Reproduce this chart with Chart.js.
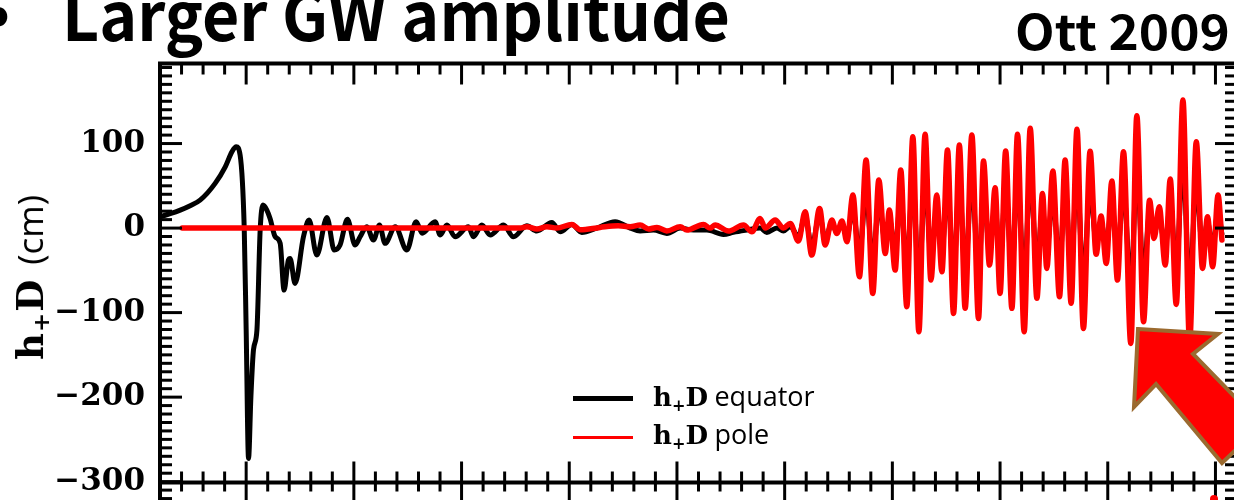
<!DOCTYPE html>
<html>
<head>
<meta charset="utf-8">
<script src="https://cdn.jsdelivr.net/npm/chart.js@4.4.1/dist/chart.umd.min.js"></script>
<style>
  html, body { margin: 0; padding: 0; background: #fff; overflow: hidden; }
  #wrap { position: relative; width: 1234px; height: 500px; overflow: hidden; }
  #gw { position: absolute; left: 0; top: 0; }
  .txt { position: absolute; white-space: nowrap; line-height: 1; transform-origin: 0 0; }
  .head { font-family: "Noto Sans CJK JP", "Liberation Sans", sans-serif; font-weight: 700; color: #000; }
  .serif { font-family: "DejaVu Serif", serif; font-weight: bold; }
  .sans { font-family: "Open Sans", "DejaVu Sans", sans-serif; }
  .sub { font-size: 0.62em; position: relative; top: 0.28em; }
  .key { position: absolute; height: 0; border-top-style: solid; }
  #arrow { position: absolute; left: 0; top: 0; }
</style>
</head>
<body>
<div id="wrap">
  <canvas id="gw" width="1240" height="500"></canvas>
  <div class="txt head" id="bullet" style="left:-14px; top:-24px; font-size:64px;">•</div>
  <div class="txt head" id="title" style="left:62px; top:-22px; font-size:68px;">Larger GW amplitude</div>
  <div class="txt head" id="cite" style="left:1015px; top:5px; font-size:48px;">Ott 2009</div>
  <div class="txt" id="ytitle" style="left:33px; top:276px; transform-origin:50% 50%;">
    <span class="serif" style="font-size:37px; letter-spacing:1px;">h<span class="sub">+</span>D</span><span class="sans" style="font-size:35px; margin-left:14px;">(cm)</span>
  </div>
  <div class="key" style="left:573px; top:396px; width:60px; border-top-width:5px; border-top-color:#000;"></div>
  <div class="key" style="left:573px; top:436px; width:60px; border-top-width:3px; border-top-color:#f00;"></div>
  <div class="txt" id="leg1" style="left:653px; top:382px; font-size:26px;"><span class="serif">h<span class="sub">+</span>D</span> <span class="sans" style="font-size:27px;">equator</span></div>
  <div class="txt" id="leg2" style="left:653px; top:420px; font-size:26px;"><span class="serif">h<span class="sub">+</span>D</span> <span class="sans" style="font-size:27px;">pole</span></div>
  <svg id="arrow" width="1234" height="500">
    <polygon points="1138,329 1218,334 1193,354 1262,425 1222,463 1156,384 1134,407"
             fill="#ff0000" stroke="#9b6a2f" stroke-width="4" stroke-linejoin="miter"/>
    <ellipse cx="1214" cy="499" rx="4" ry="4" fill="#ff0000"/>
  </svg>
</div>
<script>
// time after bounce (ms) and h+D (cm)
const equatorT = [
  -39.9, -35.3, -30.6, -26.0, -21.4, -14.4, -9.7, -6.6, -4.6, -2.8, -0.9, 0.0,
  1.1, 2.2, 3.4, 5.0, 6.5, 7.8, 9.6, 11.1, 13.5, 15.8,
  17.6, 19.6, 20.4, 22.7, 26.6, 29.2, 32.8, 37.5, 40.9, 43.6,
  47.0, 50.6, 52.9, 56.0, 59.1, 61.9, 64.5, 69.2, 74.6, 78.9,
  81.7, 87.7, 90.1, 93.2, 97.0, 103.2, 105.5, 109.4, 113.3, 119.5,
  124.1, 130.3, 135.0, 141.9, 145.8, 151.2, 155.8, 162.8, 171.3, 178.3,
  182.9, 189.1, 195.3, 201.5, 207.7, 213.9, 221.6, 226.2, 232.5, 238.6,
  241.7, 246.4, 249.4,
  252.6, 256.4, 259.5, 262.6, 266.2, 268.8, 271.9, 274.2, 276.6, 278.9,
  281.7, 284.7, 287.8, 290.9, 293.7, 296.7, 298.6, 301.3, 303.9, 306.7,
  309.5, 312.3, 315.2, 317.9, 320.6, 323.0, 325.6, 328.4, 331.1, 333.8,
  336.9, 340.0, 342.3, 345.1, 347.7, 350.0, 352.6, 355.5, 358.1, 361.2,
  364.0, 367.1, 369.7, 371.7, 374.5, 377.6, 380.2, 383.0, 385.7, 388.7,
  391.8, 394.6, 396.9, 399.3, 401.9, 404.5, 407.3, 410.7, 413.5, 416.6,
  419.4, 421.5, 423.9, 426.7, 429.0, 431.8, 434.9, 438.0, 441.1, 444.0,
  446.3, 448.7, 451.2, 453.0
];
const equatorH = [
  13.4, 17.0, 21.3, 26.5, 33.0, 52.9, 72.5, 90.3, 96.2, 86.4, 0, -120,
  -272.5, -199.6, -144, -120.7, -2.4, 27.2, 21.3, 11.4, -10.3, -18.1,
  -73.4, -37.9, -35.9, -65.5, -10.3, 9.5, -32, 12.6, -26, -20,
  10.3, -20, -10.3, 1.6, -14.2, 3.5, -18.1, 1.6, -26, 7.5,
  -6, 7.5, -8.3, 3.5, -10.3, 1.6, -10.3, 3.5, -8.3, 3.5,
  -10.3, 2.7, -3.5, 6.7, -4.3, 4.3, -5.1, 0, 7.5, 0,
  -3.5, -2.4, -6.3, 0, -2.4, -2.4, -7.5, -5.1, -2.4, 0,
  -5.1, 0, -3.5,
  2, -10, 14, -22, 16, -14, 6, -5, 5, -10,
  22, -30, 40, -40, 30, -16, 11, -26, 36, -48,
  58, -66, 56, -32, 20, -27, 48, -52, 52, -50,
  57, -55, 41, -23, 25, -40, 48, -50, 58, -62,
  62, -44, 21, -25, 35, -42, 42, -46, 62, -62,
  47, -16, 7, -22, 29, -32, 47, -70, 69, -58,
  17, -6, 13, -23, 30, -47, 78, -70, 53, -25,
  7, -24, 20, -7
];
const poleT = [
  -29.7, 127.2, 130.3, 135.0, 139.6, 144.2, 151.2, 155.1, 164.3, 172.7,
  178.3, 182.9, 186.8, 190.7, 195.3, 201.5, 204.6, 212.3, 215.4, 217.7,
  223.9, 230.9, 234.8, 238.6, 241.0, 245.6, 249.4,
  252.6, 256.4, 259.5, 262.6, 266.2, 268.8, 271.9, 274.2, 276.6, 278.9,
  281.7, 284.7, 287.8, 290.9, 293.7, 296.7, 298.6, 301.3, 303.9, 306.7,
  309.5, 312.3, 315.2, 317.9, 320.6, 323.0, 325.6, 328.4, 331.1, 333.8,
  336.9, 340.0, 342.3, 345.1, 347.7, 350.0, 352.6, 355.5, 358.1, 361.2,
  364.0, 367.1, 369.7, 371.7, 374.5, 377.6, 380.2, 383.0, 385.7, 388.7,
  391.8, 394.6, 396.9, 399.3, 401.9, 404.5, 407.3, 410.7, 413.5, 416.6,
  419.4, 421.5, 423.9, 426.7, 429.0, 431.8, 434.9, 438.0, 441.1, 444.0,
  446.3, 448.7, 451.2, 453.0
];
const poleH = [
  0, 0, 1.6, -1.2, 1.6, 0, 4.3, -2, 0.8, 2.7,
  1.5, 3.5, -1.2, 0.8, -3.5, 1.6, -2.4, 4.3, 0, 3.5,
  -3.5, 3.5, -4.3, 11.4, 0, 9.5, 0,
  5.5, -15.4, 19.3, -32, 23.3, -20, 9.5, -6.3, 8.3, -16.2,
  39, -57.6, 80.5, -77.3, 56.8, -30, 21.3, -49.7, 68.6, -93,
  108, -122.7, 111, -61.5, 39, -51.7, 92.3, -101, 98.2, -95,
  110, -106.9, 79.3, -43.8, 47.7, -77.3, 91.3, -95, 111, -122.7,
  118, -83, 41, -47.7, 67.5, -81.3, 80.5, -89, 116.8, -118.7,
  91, -31, 14.2, -41.8, 55.6, -61.5, 90.3, -136.5, 132.9, -110.9,
  33, -12.2, 25.2, -43.8, 58, -90.3, 151.5, -135, 102, -47.7,
  13.4, -45.8, 39, -14.2
];
const yTickValues = [-300, -200, -100, 0, 100];

const toPoints = (t, h) => t.map((x, i) => ({ x: x, y: h[i] }));

// inward tick marks on every side, like the original frame
const frameTicks = {
  id: 'frameTicks',
  afterDatasetsDraw(chart) {
    const { ctx, chartArea: a, scales: { x, y } } = chart;
    const seg = (x1, y1, x2, y2) => { ctx.beginPath(); ctx.moveTo(x1, y1); ctx.lineTo(x2, y2); ctx.stroke(); };
    ctx.save();
    ctx.strokeStyle = '#000';
    ctx.lineWidth = 3;
    for (let t = -30; t < x.max; t += 10) {
      const px = x.getPixelForValue(t);
      const major = t % 50 === 0;
      seg(px, a.top, px, a.top + (major ? 21 : 11));
      seg(px, a.bottom - (major ? 21 : 11), px, a.bottom + (major ? 22 : 9));
    }
    for (let v = -320; v < y.max; v += 10) {
      const py = y.getPixelForValue(v);
      const major = v % 100 === 0 && v >= -300;
      seg(a.left, py, a.left + (major ? 22 : 12), py);
      seg(a.right, py, a.right - (major ? 22 : 12), py);
    }
    ctx.lineWidth = 4;
    ctx.strokeRect(a.left, a.top, a.right - a.left, a.bottom - a.top);
    seg(a.left, a.bottom, a.left, chart.height);
    seg(a.right, a.bottom, a.right, chart.height);
    ctx.restore();
  }
};

document.addEventListener('DOMContentLoaded', () => {
  const ctx = document.getElementById('gw').getContext('2d');
  new Chart(ctx, {
    type: 'line',
    data: {
      datasets: [{
        label: 'h+D equator',
        data: toPoints(equatorT, equatorH),
        borderColor: '#000000',
        borderWidth: 5,
        order: 2
      }, {
        label: 'h+D pole',
        data: toPoints(poleT, poleH),
        borderColor: '#ff0000',
        borderWidth: 5.5,
        order: 1
      }]
    },
    options: {
      responsive: false,
      animation: false,
      events: [],
      layout: { padding: { left: 0, top: 63.5, right: 3, bottom: 17.5 } },
      elements: {
        point: { radius: 0 },
        line: { cubicInterpolationMode: 'monotone', borderJoinStyle: 'round', borderCapStyle: 'round' }
      },
      plugins: { legend: { display: false }, tooltip: { enabled: false } },
      scales: {
        x: { type: 'linear', min: -40, max: 460, display: false },
        y: {
          type: 'linear',
          min: -301,
          max: 194.7,
          afterFit: scale => {
            scale.width = 160;
            scale.paddingTop = 0;
            scale.paddingBottom = 0;
          },
          afterBuildTicks: scale => { scale.ticks = yTickValues.map(v => ({ value: v })); },
          grid: { display: false, drawTicks: false },
          border: { display: false },
          ticks: {
            padding: 15,
            color: '#000',
            font: { family: 'DejaVu Serif', weight: 'bold', size: 31 },
            callback: v => v < 0 ? '\u2212' + (-v) : String(v)
          }
        }
      }
    },
    plugins: [frameTicks]
  });

  // squeeze the headings to the widths they have on the slide
  const fit = (id, target) => {
    const el = document.getElementById(id);
    const w = el.getBoundingClientRect().width;
    el.style.transform = 'scaleX(' + (target / w) + ')';
  };
  fit('title', 668);
  fit('cite', 215);
  const yt = document.getElementById('ytitle');
  const r = yt.getBoundingClientRect();
  yt.style.left = (31 - r.width / 2) + 'px';
  yt.style.top = (277 - r.height / 2) + 'px';
  yt.style.transform = 'rotate(-90deg)';
});
</script>
</body>
</html>
